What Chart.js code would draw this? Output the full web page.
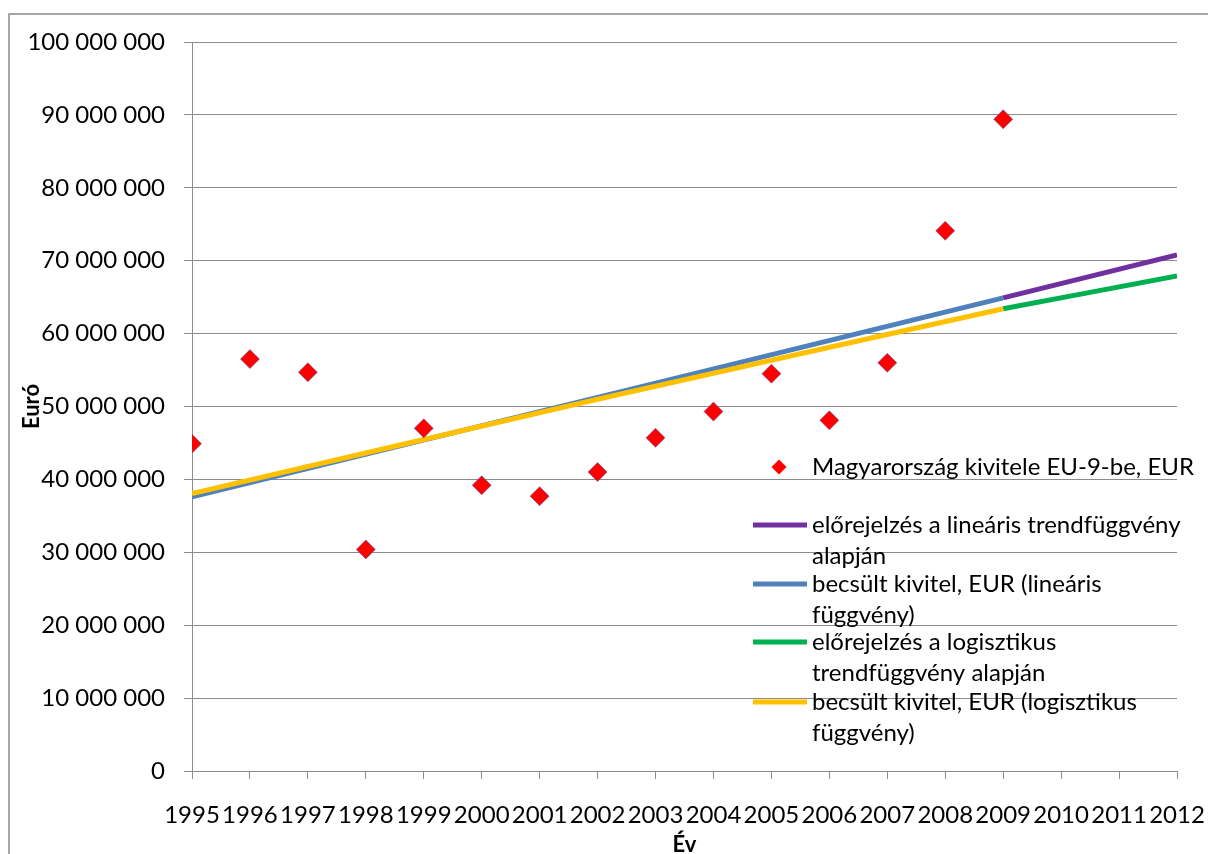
<!DOCTYPE html>
<html>
<head>
<meta charset="utf-8">
<script src="https://cdn.jsdelivr.net/npm/chart.js@4/dist/chart.umd.min.js"></script>
<style>
  html, body { margin: 0; padding: 0; background: #fff; }
  canvas { display: block; }
</style>
</head>
<body>
<canvas id="export-chart" width="1208" height="854"></canvas>
<script>
// Magyarország kivitele EU-9-be (EUR), plus trend lines
var years = [1995, 1996, 1997, 1998, 1999, 2000, 2001, 2002, 2003, 2004, 2005, 2006, 2007, 2008, 2009];
var exportEur = [44900000, 56500000, 54700000, 30400000, 47000000, 39200000, 37700000, 41000000,
                 45700000, 49300000, 54500000, 48100000, 56000000, 74100000, 89400000];

var linFitYears = [1995, 2009];
var linFitValues = [37600000, 64900000];
var linForecastYears = [2009, 2012];
var linForecastValues = [64900000, 70800000];

var logFitYears = [1995, 2002, 2009];
var logFitValues = [38050000, 51000000, 63400000];
var logForecastYears = [2009, 2012];
var logForecastValues = [63400000, 67900000];

var yTicks = { min: 0, max: 100000000, step: 10000000 };
var xTicks = { min: 1995, max: 2012, step: 1 };

var legendItems = [
  { kind: 'point', color: '#ff0000', lines: ['Magyarország kivitele EU-9-be, EUR'] },
  { kind: 'line', color: '#7030a0', lines: ['előrejelzés a lineáris trendfüggvény', 'alapján'] },
  { kind: 'line', color: '#4f81bd', lines: ['becsült kivitel, EUR (lineáris', 'függvény)'] },
  { kind: 'line', color: '#00b050', lines: ['előrejelzés a logisztikus', 'trendfüggvény alapján'] },
  { kind: 'line', color: '#ffc000', lines: ['becsült kivitel, EUR (logisztikus', 'függvény)'] }
];

function pairs(xs, ys) {
  return xs.map(function (x, i) { return { x: x, y: ys[i] }; });
}

function spaced(v) {
  return String(v).replace(/\B(?=(\d{3})+(?!\d))/g, ' ');
}

var FONT = 'Lato, "Open Sans", sans-serif';
var GRID = '#8c8c8c';

// outer frame like the spreadsheet chart border
var framePlugin = {
  id: 'frame',
  beforeDraw: function (chart) {
    var ctx = chart.ctx;
    ctx.save();
    ctx.strokeStyle = '#8a8a8a';
    ctx.lineWidth = 1.5;
    ctx.strokeRect(9, 14, 1400, 1000);
    ctx.restore();
  }
};

// legend drawn inside the plot, over the grid lines
var legendPlugin = {
  id: 'insideLegend',
  afterDraw: function (chart) {
    var ctx = chart.ctx;
    var ca = chart.chartArea;
    var symX = ca.left + 587;
    var textX = ca.left + 620;
    var rowY = [467, 525, 584, 642, 702];
    var lineH = 31;
    ctx.save();
    ctx.font = '24px ' + FONT;
    ctx.fillStyle = '#000';
    ctx.textBaseline = 'middle';
    ctx.textAlign = 'left';
    legendItems.forEach(function (item, i) {
      var y = rowY[i];
      if (item.kind === 'point') {
        ctx.beginPath();
        ctx.moveTo(symX - 7.5, y);
        ctx.lineTo(symX, y - 7.5);
        ctx.lineTo(symX + 7.5, y);
        ctx.lineTo(symX, y + 7.5);
        ctx.closePath();
        ctx.fillStyle = item.color;
        ctx.fill();
        ctx.fillStyle = '#000';
      } else {
        ctx.beginPath();
        ctx.strokeStyle = item.color;
        ctx.lineWidth = 5;
        ctx.moveTo(symX - 26, y);
        ctx.lineTo(symX + 28, y);
        ctx.stroke();
      }
      item.lines.forEach(function (t, j) {
        ctx.fillText(t, textX, y + j * lineH);
      });
    });
    ctx.restore();
  }
};

function trendLine(label, color, xs, ys, order) {
  return {
    type: 'line',
    label: label,
    data: pairs(xs, ys),
    borderColor: color,
    backgroundColor: color,
    borderWidth: 5,
    pointRadius: 0,
    fill: false,
    tension: 0.3,
    order: order
  };
}

function drawChart() {
  var el = document.getElementById('export-chart');
  new Chart(el, {
    type: 'scatter',
    data: {
      datasets: [
        {
          label: legendItems[0].lines[0],
          data: pairs(years, exportEur),
          pointStyle: 'rectRot',
          pointRadius: 9.5,
          backgroundColor: '#ff0000',
          borderColor: 'rgba(80,90,170,0.55)',
          borderWidth: 1,
          order: 0
        },
        trendLine(legendItems[1].lines.join(' '), '#7030a0', linForecastYears, linForecastValues, 4),
        trendLine(legendItems[2].lines.join(' '), '#4f81bd', linFitYears, linFitValues, 3),
        trendLine(legendItems[3].lines.join(' '), '#00b050', logForecastYears, logForecastValues, 2),
        trendLine(legendItems[4].lines.join(' '), '#ffc000', logFitYears, logFitValues, 1)
      ]
    },
    options: {
      responsive: false,
      animation: false,
      layout: { padding: { left: 0, top: 42, right: 31, bottom: 0 } },
      plugins: {
        legend: { display: false },
        tooltip: { enabled: false }
      },
      scales: {
        x: {
          type: 'linear',
          min: xTicks.min,
          max: xTicks.max,
          afterFit: function (s) { s.height = 83; s.paddingLeft = 0; s.paddingRight = 0; },
          border: { display: true, color: GRID, width: 1 },
          grid: { drawOnChartArea: false, drawTicks: true, tickLength: 8, color: GRID },
          ticks: {
            stepSize: xTicks.step,
            autoSkip: false,
            maxRotation: 0,
            minRotation: 0,
            padding: 22,
            color: '#000',
            font: { family: FONT, size: 24 },
            callback: function (v) { return String(v); }
          },
          title: {
            display: true,
            text: 'Év',
            color: '#000',
            font: { family: FONT, size: 22, weight: 'bold', lineHeight: 1.2 },
            padding: { top: 0, bottom: -4 }
          }
        },
        y: {
          min: yTicks.min,
          max: yTicks.max,
          afterFit: function (s) { s.width = 192; s.paddingTop = 0; s.paddingBottom = 0; },
          border: { display: true, color: GRID, width: 1 },
          grid: { color: GRID, lineWidth: 1, tickLength: 8 },
          ticks: {
            stepSize: yTicks.step,
            padding: 19,
            color: '#000',
            font: { family: FONT, size: 24 },
            callback: function (v) { return spaced(v); }
          },
          title: {
            display: true,
            text: 'Euró',
            color: '#000',
            font: { family: FONT, size: 22, weight: 'bold', lineHeight: 1.2 },
            padding: { top: 19, bottom: 0 }
          }
        }
      }
    },
    plugins: [framePlugin, legendPlugin]
  });
}

drawChart();
</script>
</body>
</html>
